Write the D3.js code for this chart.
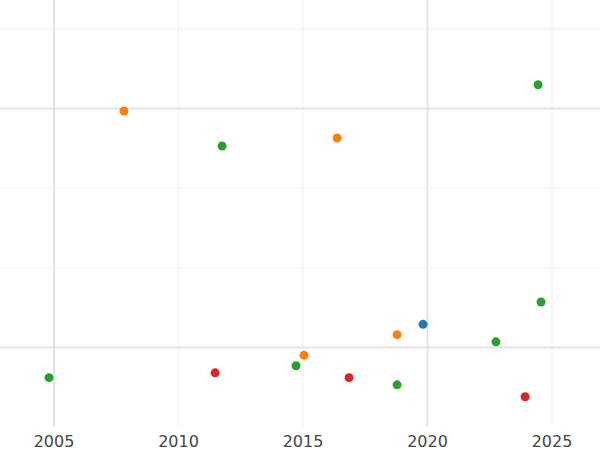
<!DOCTYPE html>
<html><head><meta charset="utf-8">
<script src="https://cdn.jsdelivr.net/npm/d3@7"></script>
<style>body{margin:0;background:#fff}</style>
</head><body>
<script>
// data
var years  = [2007.81,2011.75,2016.37,2024.44,2024.56,2019.82,2018.78,2022.75,2015.04,2014.72,2011.47,2016.85,2004.8,2018.78,2023.92];
var values = [3.97,3.53,3.63,4.30,1.57,1.29,1.16,1.07,0.90,0.77,0.68,0.62,0.62,0.53,0.38];
var groups = ["b","c","b","c","c","a","b","c","b","c","d","d","c","c","d"];
var xTicks = [2005,2010,2015,2020,2025];
var yTicks = [1,2,3,4,5];
var majorX = [2005,2020], majorY = [1,4];

var W=600,H=450;
var svg=d3.select("body").append("svg").attr("width",W).attr("height",H);
var x=d3.scaleLinear().domain([2005,2025]).range([54,552]);
var y=d3.scaleLinear().domain([0,5]).range([427,29]);
var color=d3.scaleOrdinal().domain(["a","b","c","d"]).range(["#1f77b4","#ff7f0e","#2ca02c","#d62728"]);

svg.selectAll("line.gx").data(xTicks).enter().append("line")
  .attr("x1",x).attr("x2",x).attr("y1",0).attr("y2",427)
  .attr("stroke",function(d){return majorX.indexOf(d)>=0?"#e3e3e3":"#efefef";})
  .attr("stroke-width",function(d){return majorX.indexOf(d)>=0?2:1;});
svg.selectAll("line.gy").data(yTicks).enter().append("line")
  .attr("x1",0).attr("x2",W).attr("y1",y).attr("y2",y)
  .attr("stroke",function(d){return majorY.indexOf(d)>=0?"#e3e3e3":"#efefef";})
  .attr("stroke-width",function(d){return majorY.indexOf(d)>=0?2:1;});

svg.selectAll("text.xt").data(xTicks).enter().append("text")
  .attr("x",x).attr("y",447).attr("text-anchor","middle")
  .attr("font-family","DejaVu Sans, sans-serif").attr("font-size",16).attr("fill","#444")
  .text(function(d){return d;});

svg.selectAll("circle").data(years).enter().append("circle")
  .attr("cx",function(d){return x(d);})
  .attr("cy",function(d,i){return y(values[i]);})
  .attr("r",4.5)
  .attr("fill",function(d,i){return color(groups[i]);});
</script>
</body></html>
